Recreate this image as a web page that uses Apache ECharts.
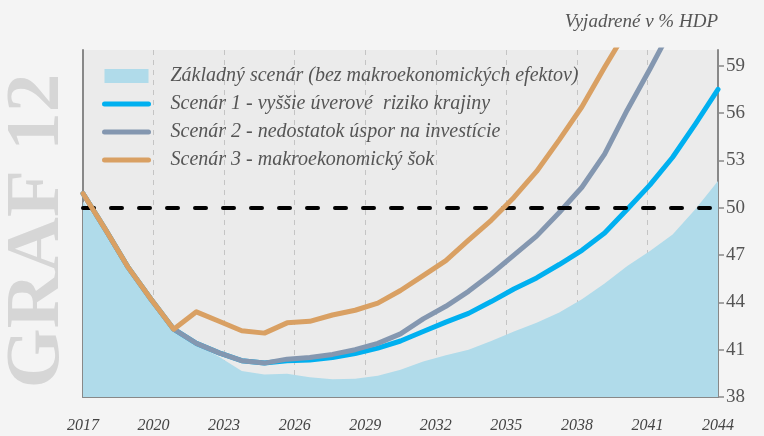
<!DOCTYPE html>
<html><head><meta charset="utf-8">
<script src="https://cdn.jsdelivr.net/npm/echarts@6/dist/echarts.min.js"></script>
<style>html,body{margin:0;padding:0;background:#f4f4f4}#c{width:764px;height:436px}</style>
</head><body><div id="c"></div>
<script>
// Data periods (29 points spread across the 2017–2044 axis)
const periods = ['2016','2017','2018','2019','2020','2021','2022','2023','2024','2025','2026','2027','2028','2029','2030',
  '2031','2032','2033','2034','2035','2036','2037','2038','2039','2040','2041','2042','2043','2044'];
const xTickYears = [2017, 2020, 2023, 2026, 2029, 2032, 2035, 2038, 2041, 2044];
const yTicks = [38, 41, 44, 47, 50, 53, 56, 59];
const threshold = 50;

const seriesNames = [
  'Základný scenár (bez makroekonomických efektov)',
  'Scenár 1 - vyššie úverové  riziko krajiny',
  'Scenár 2 - nedostatok úspor na investície',
  'Scenár 3 - makroekonomický šok'
];

const baseline = [50.4, 48.5, 46.1, 44.1, 42.2, 41.3, 40.55, 39.65, 39.42, 39.48, 39.25, 39.12, 39.15, 39.35, 39.73,
  40.25, 40.65, 41.0, 41.55, 42.15, 42.7, 43.35, 44.2, 45.2, 46.3, 47.25, 48.3, 49.9, 51.7];
const scenario1 = [50.9, 48.6, 46.2, 44.2, 42.3, 41.4, 40.8, 40.3, 40.15, 40.3, 40.35, 40.5, 40.75, 41.1, 41.55,
  42.15, 42.75, 43.3, 44.05, 44.85, 45.55, 46.4, 47.3, 48.4, 49.9, 51.45, 53.2, 55.3, 57.5];
const scenario2 = [50.9, 48.6, 46.2, 44.2, 42.3, 41.4, 40.8, 40.3, 40.15, 40.4, 40.5, 40.7, 41.0, 41.4, 42.0,
  42.95, 43.75, 44.7, 45.8, 47.0, 48.2, 49.7, 51.3, 53.4, 56.2, 58.8, 61.5];
const scenario3 = [50.9, 48.6, 46.2, 44.2, 42.3, 43.4, 42.8, 42.2, 42.05, 42.7, 42.8, 43.2, 43.5, 43.95, 44.75,
  45.7, 46.65, 47.95, 49.2, 50.65, 52.3, 54.3, 56.4, 58.9, 61.3];

const colors = ['#b0dbea', '#00b0f0', '#8497b0', '#d9a063'];
const SERIF = 'Liberation Serif';

const chart = echarts.init(document.getElementById('c'));

function lineSeries(name, data, color, z) {
  return {
    name, type: 'line', data, xAxisIndex: 0, yAxisIndex: 0,
    symbol: 'none', showSymbol: false, z,
    itemStyle: { color },
    lineStyle: { color, width: 5, cap: 'round', join: 'round' },
    emphasis: { disabled: true }
  };
}

const s3 = lineSeries(seriesNames[3], scenario3, colors[3], 5);
s3.markLine = {
  silent: true, symbol: ['none', 'none'], label: { show: false },
  lineStyle: { color: '#000', width: 4, type: [11, 17], cap: 'round' },
  data: [{ yAxis: threshold }]
};

chart.setOption({
  backgroundColor: '#f4f4f4',
  animation: false,
  grid: { left: 83, right: 46, top: 50, bottom: 39, show: true, backgroundColor: '#ebebeb', borderWidth: 0 },
  graphic: [
    { type: 'text', x: 38, y: 231, rotation: Math.PI / 2, z: 0,
      style: { text: 'GRAF 12', fontFamily: SERIF, fontWeight: 'bold', fontSize: 77, fill: '#d6d6d6', align: 'center', verticalAlign: 'middle' } },
    { type: 'text', x: 718, y: 22,
      style: { text: 'Vyjadrené v % HDP', fontFamily: SERIF, fontStyle: 'italic', fontSize: 19, fill: '#555', align: 'right', verticalAlign: 'middle' } }
  ],
  legend: {
    orient: 'vertical', left: 97, top: 61, itemWidth: 44, itemHeight: 14, itemGap: 8,
    selectedMode: false,
    lineStyle: { width: 5, cap: 'round' },
    textStyle: { fontFamily: SERIF, fontStyle: 'italic', fontSize: 20, color: '#555', lineHeight: 20, padding: [0, 0, 0, 17] },
    data: [
      { name: seriesNames[0], icon: 'rect' },
      { name: seriesNames[1], itemStyle: { opacity: 0 } },
      { name: seriesNames[2], itemStyle: { opacity: 0 } },
      { name: seriesNames[3], itemStyle: { opacity: 0 } }
    ]
  },
  xAxis: [
    { type: 'category', data: periods, boundaryGap: false, show: false },
    { type: 'value', min: 2017, max: 2044, position: 'bottom',
      axisLine: { show: true, onZero: false, lineStyle: { color: '#888', width: 2 } },
      axisTick: { show: false, customValues: xTickYears },
      axisLabel: { customValues: xTickYears, formatter: v => String(v), fontFamily: SERIF, fontStyle: 'italic', fontSize: 16, color: '#444', margin: 21 },
      splitLine: { show: true, lineStyle: { color: '#c4c4c4', width: 1, type: [5, 5] } } }
  ],
  yAxis: [
    { type: 'value', position: 'right', min: 38, max: 60,
      axisLine: { show: true, lineStyle: { color: '#888', width: 2 } },
      axisTick: { show: true, inside: false, length: 6, customValues: yTicks, lineStyle: { color: '#888', width: 1.5 } },
      axisLabel: { customValues: yTicks, fontFamily: SERIF, fontSize: 19, color: '#555', margin: 8 },
      splitLine: { show: false } },
    { type: 'value', position: 'left', min: 38, max: 60,
      axisLine: { show: true, lineStyle: { color: '#888', width: 2 } },
      axisTick: { show: false }, axisLabel: { show: false }, splitLine: { show: false } }
  ],
  series: [
    { name: seriesNames[0], type: 'line', data: baseline, xAxisIndex: 0, yAxisIndex: 0,
      symbol: 'none', showSymbol: false, z: 1,
      itemStyle: { color: colors[0] },
      lineStyle: { width: 0, color: colors[0] },
      areaStyle: { color: colors[0], opacity: 1 },
      emphasis: { disabled: true } },
    lineSeries(seriesNames[1], scenario1, colors[1], 3),
    lineSeries(seriesNames[2], scenario2, colors[2], 4),
    s3
  ]
});
</script></body></html>
